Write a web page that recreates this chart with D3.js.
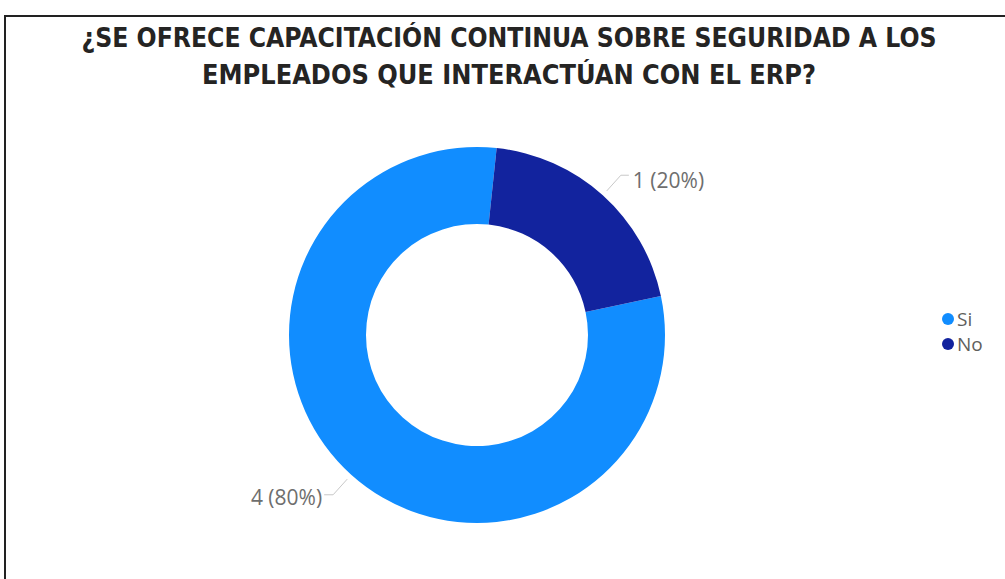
<!DOCTYPE html>
<html><head><meta charset="utf-8">
<script src="https://cdn.jsdelivr.net/npm/d3@7"></script>
<style>body{margin:0;background:#fff;}svg{display:block;}</style>
</head><body>
<svg id="chart" width="1005" height="579"></svg>
<script>
const titleLines = ["¿SE OFRECE CAPACITACIÓN CONTINUA SOBRE SEGURIDAD A LOS", "EMPLEADOS QUE INTERACTÚAN CON EL ERP?"];
const categories = ["Si", "No"];
const values = [4, 1];
const colors = ["#118DFF", "#12239E"];

const svg = d3.select("#chart");
const W = 1005, H = 579;
svg.append("rect").attr("width", W).attr("height", H).attr("fill", "#fff");
// frame
svg.append("path").attr("d", `M5,${H} L5,16 L${W},16`).attr("fill", "none").attr("stroke", "#222").attr("stroke-width", 2);

// title
const titleSpec = [{y: 47, w: 855}, {y: 84, w: 614}];
svg.selectAll("text.title").data(titleLines).join("text")
  .attr("class", "title")
  .attr("x", 509).attr("y", (d, i) => titleSpec[i].y)
  .attr("text-anchor", "middle")
  .attr("textLength", (d, i) => titleSpec[i].w)
  .attr("lengthAdjust", "spacingAndGlyphs")
  .style("font-family", "'Liberation Sans Narrow','DejaVu Sans Condensed',sans-serif")
  .style("font-weight", "bold").style("font-size", "26px").attr("fill", "#252423")
  .text(d => d);

const cx = 477, cy = 335, R = 188, r = 111;
const total = d3.sum(values);
const data = categories.map((c, i) => ({cat: c, value: values[i], color: colors[i]}));
const start = 78 * Math.PI / 180;
const pie = d3.pie().sort(null).value(d => d.value).startAngle(start).endAngle(start + 2 * Math.PI);
const arcs = pie(data);
const arc = d3.arc().innerRadius(r).outerRadius(R);
const g = svg.append("g").attr("transform", `translate(${cx},${cy})`);
g.selectAll("path.slice").data(arcs).join("path").attr("class", "slice")
  .attr("d", arc).attr("fill", d => d.data.color);

// labels
const fmt = d3.format(".0%");
arcs.forEach(a => {
  const m = (a.startAngle + a.endAngle) / 2;
  const sx = Math.sin(m), sy = -Math.cos(m);
  const p0 = [sx * 194, sy * 194];
  const p1 = [sx * 215, sy * 215];
  const right = sx > 0;
  const p2 = [p1[0] + (right ? 8 : -9), p1[1]];
  g.append("polyline").attr("points", [p0, p1, p2].map(p => p.join(",")).join(" "))
    .attr("fill", "none").attr("stroke", "#c8c8c8").attr("stroke-width", 1);
  g.append("text").attr("x", p2[0] + (right ? 4 : -2)).attr("y", p2[1] + (right ? 5 : 3))
    .attr("dy", "0.35em").attr("text-anchor", right ? "start" : "end")
    .style("font-family", "'Open Sans','Noto Sans',sans-serif").style("font-size", "21px")
    .attr("fill", "#6e6e6e")
    .text(`${a.data.value} (${fmt(a.data.value / total)})`);
});

// legend
const leg = svg.append("g").attr("transform", "translate(948,319)");
const li = leg.selectAll("g").data(data).join("g").attr("transform", (d, i) => `translate(0,${i * 25})`);
li.append("circle").attr("r", 6).attr("fill", d => d.color);
li.append("text").attr("x", 9).attr("dy", "0.35em")
  .style("font-family", "'Open Sans','Noto Sans',sans-serif").style("font-size", "19px")
  .attr("fill", "#605E5C").text(d => d.cat);
</script>
</body></html>
